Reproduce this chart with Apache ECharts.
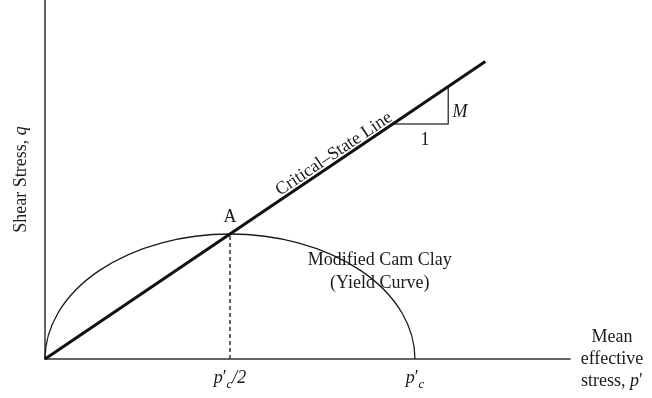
<!DOCTYPE html>
<html>
<head>
<meta charset="utf-8">
<script src="https://cdn.jsdelivr.net/npm/echarts@6/dist/echarts.min.js"></script>
<style>
  html, body { margin: 0; padding: 0; background: #fff; }
  #chart { width: 652px; height: 398px; }
</style>
</head>
<body>
<div id="chart"></div>
<script>
// Modified Cam Clay yield surface in p'–q space (normalised units)
const pc = 2;                                   // preconsolidation pressure p'c
const qPeak = 1;                                // q at the crown of the yield curve (point A)
const cslLine = [[0, 0], [2.38, 2.38]];         // critical-state line q = M p'
const dropFromA = [[1, 0], [1, 1]];             // A projected onto the p' axis
const slopeTriangle = [[1.88, 1.88], [2.18, 1.88], [2.18, 2.18]];
const xTickValues = [1, 2];                     // p'c/2 and p'c

const serif = '"Liberation Serif", "DejaVu Serif", serif';
const ink = '#1a1a1a';

const chart = echarts.init(document.getElementById('chart'), null, { renderer: 'canvas' });

const primeRich = {
  i: { fontFamily: serif, fontSize: 18, fontStyle: 'italic', color: ink, lineHeight: 20, verticalAlign: 'top' },
  n: { fontFamily: serif, fontSize: 18, color: ink, lineHeight: 20, verticalAlign: 'top' },
  sub: { fontFamily: serif, fontSize: 13, fontStyle: 'italic', color: ink, lineHeight: 14, padding: [9, 0, 0, 0], verticalAlign: 'top' }
};

chart.setOption({
  animation: false,
  backgroundColor: '#fff',
  grid: { left: 45, right: 82, top: 0, bottom: 39, containLabel: false },
  xAxis: {
    type: 'value',
    min: 0,
    max: 2.838,
    splitLine: { show: false },
    axisTick: { show: false },
    axisLine: { show: true, onZero: false, lineStyle: { color: '#333', width: 1.5 } },
    axisLabel: {
      show: true,
      customValues: xTickValues,
      margin: 10,
      formatter: v => v === pc ? '{i|p}{n|′}{sub|c}' : '{i|p}{n|′}{sub|c}{i|/2}',
      rich: primeRich
    },
    name: 'Mean\neffective\nstress, {i|p}{n|′}',
    nameLocation: 'end',
    nameGap: 42,
    nameTextStyle: {
      fontFamily: serif, fontSize: 18, color: ink, lineHeight: 22,
      align: 'center', verticalAlign: 'middle',
      rich: {
        i: { fontFamily: serif, fontSize: 18, fontStyle: 'italic', color: ink, lineHeight: 22 },
        n: { fontFamily: serif, fontSize: 18, color: ink, lineHeight: 22 }
      }
    }
  },
  yAxis: {
    type: 'value',
    min: 0,
    max: 2.872,
    splitLine: { show: false },
    axisTick: { show: false },
    axisLabel: { show: false },
    axisLine: { show: true, onZero: false, lineStyle: { color: '#333', width: 1.5 } },
    name: 'Shear Stress, {i|q}',
    nameLocation: 'middle',
    nameRotate: 90,
    nameGap: 15,
    nameTextStyle: {
      fontFamily: serif, fontSize: 18, color: ink,
      rich: { i: { fontFamily: serif, fontSize: 18, fontStyle: 'italic', color: ink } }
    }
  },
  series: [
    {
      // yield curve: half-ellipse from the origin to p'c, crown at (p'c/2, qPeak)
      type: 'custom',
      coordinateSystem: 'cartesian2d',
      silent: true,
      data: [[0, pc, qPeak]],
      renderItem(params, api) {
        const p0 = api.coord([api.value(0), 0]);
        const p1 = api.coord([api.value(1), 0]);
        const crown = api.coord([(api.value(0) + api.value(1)) / 2, api.value(2)]);
        const rx = (p1[0] - p0[0]) / 2;
        const ry = p0[1] - crown[1];
        return {
          type: 'path',
          shape: { pathData: `M${p0[0]} ${p0[1]} A${rx} ${ry} 0 0 1 ${p1[0]} ${p1[1]}` },
          style: { fill: 'none', stroke: ink, lineWidth: 1.3 }
        };
      },
      z: 2
    },
    {
      type: 'line',
      data: dropFromA,
      symbol: 'none',
      lineStyle: { color: '#333', width: 1.5, type: [4, 3] },
      z: 3
    },
    {
      type: 'line',
      data: cslLine,
      symbol: 'none',
      lineStyle: { color: '#111', width: 3 },
      z: 4
    },
    {
      type: 'line',
      data: slopeTriangle,
      symbol: 'none',
      lineStyle: { color: '#444', width: 1.5 },
      z: 3
    },
    {
      // text annotations
      type: 'scatter',
      symbolSize: 0,
      silent: true,
      z: 5,
      itemStyle: { opacity: 1 },
      label: { show: true, position: 'inside', fontFamily: serif, fontSize: 18, color: ink, opacity: 1 },
      data: [
        { value: [1, 1.136], label: { formatter: 'A' } },
        { value: [1.562, 1.64], label: { formatter: 'Critical–State Line', rotate: 33.9 } },
        { value: [1.81, 0.70], label: { formatter: 'Modified Cam Clay\n(Yield Curve)', lineHeight: 23, align: 'center' } },
        { value: [2.054, 1.752], label: { formatter: '1' } },
        { value: [2.243, 1.976], label: { formatter: 'M', fontStyle: 'italic' } }
      ]
    }
  ]
});
</script>
</body>
</html>
